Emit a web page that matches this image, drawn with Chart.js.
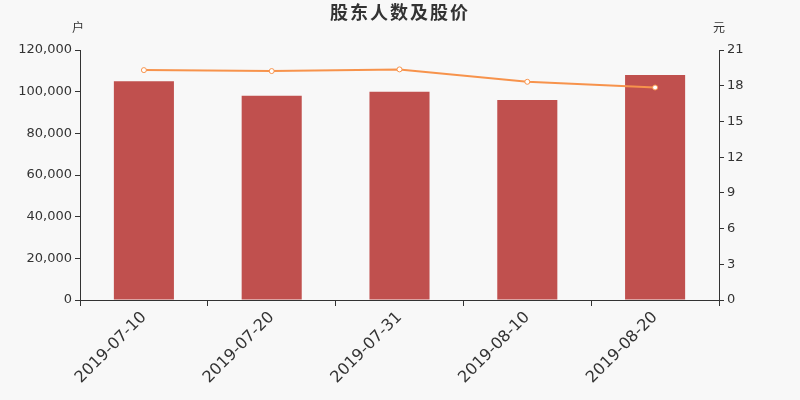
<!DOCTYPE html>
<html>
<head>
<meta charset="utf-8">
<script src="https://cdn.jsdelivr.net/npm/chart.js@4/dist/chart.umd.min.js"></script>
<style>
  html, body { margin: 0; padding: 0; background: #f8f8f8; }
  #wrap { width: 800px; height: 400px; }
</style>
</head>
<body>
<div id="wrap"><canvas id="chart"></canvas></div>
<script>
var dates = ["2019-07-10", "2019-07-20", "2019-07-31", "2019-08-10", "2019-08-20"];
var holders = [105000, 98000, 100000, 96000, 108000];
var price = [19.31, 19.23, 19.37, 18.33, 17.85];

var fontFamily = "'DejaVu Sans', 'Noto Sans CJK SC', sans-serif";

var labelsPlugin = {
  id: 'labels',
  afterDraw: function(chart) {
    var ctx = chart.ctx, area = chart.chartArea;
    ctx.save();
    ctx.fillStyle = '#333';
    ctx.textAlign = 'center';
    ctx.textBaseline = 'middle';
    ctx.font = "bold 18px " + fontFamily;
    if ('letterSpacing' in ctx) ctx.letterSpacing = '2px';
    ctx.fillText('股东人数及股价', 400, 14);
    if ('letterSpacing' in ctx) ctx.letterSpacing = '0px';
    ctx.font = "12px " + fontFamily;
    ctx.fillText('户', area.left - 2, 29);
    ctx.fillText('元', area.right, 29);
    ctx.restore();
  }
};

new Chart(document.getElementById("chart"), {
  type: 'bar',
  data: {
    labels: dates,
    datasets: [
      {
        type: 'line',
        label: '股价',
        data: price,
        yAxisID: 'y1',
        borderColor: '#f7934c',
        borderWidth: 2,
        backgroundColor: '#ffffff',
        pointBorderColor: '#f7934c',
        pointBackgroundColor: '#ffffff',
        pointRadius: 2.5,
        pointBorderWidth: 1,
        tension: 0,
        order: 0
      },
      {
        label: '股东人数',
        data: holders,
        yAxisID: 'y',
        backgroundColor: '#c0504e',
        barPercentage: 0.47,
        categoryPercentage: 1,
        order: 1
      }
    ]
  },
  options: {
    responsive: true,
    maintainAspectRatio: false,
    animation: false,
    layout: { padding: { top: 50, left: 0, right: 0, bottom: 0 } },
    plugins: {
      legend: { display: false },
      title: { display: false },
      tooltip: { enabled: false }
    },
    scales: {
      x: {
        afterFit: function(scale) { scale.height = 100; },
        grid: { drawOnChartArea: false, offset: true, tickLength: 6, color: '#333' },
        border: { display: true, color: '#333' },
        ticks: {
          color: '#333',
          font: { size: 16, family: fontFamily },
          maxRotation: 45,
          minRotation: 45,
          padding: 2
        }
      },
      y: {
        position: 'left',
        min: 0,
        max: 120000,
        afterFit: function(scale) { scale.width = 80; },
        grid: { drawOnChartArea: false, tickLength: 5, color: '#333' },
        border: { display: true, color: '#333' },
        ticks: {
          stepSize: 20000,
          color: '#333',
          font: { size: 13, family: fontFamily },
          padding: 3,
          callback: function(v) { return v.toLocaleString('en-US'); }
        }
      },
      y1: {
        position: 'right',
        min: 0,
        max: 21,
        afterFit: function(scale) { scale.width = 81; },
        grid: { drawOnChartArea: false, tickLength: 5, color: '#333' },
        border: { display: true, color: '#333' },
        ticks: {
          stepSize: 3,
          color: '#333',
          font: { size: 13, family: fontFamily },
          padding: 3
        }
      }
    }
  },
  plugins: [labelsPlugin]
});
</script>
</body>
</html>
